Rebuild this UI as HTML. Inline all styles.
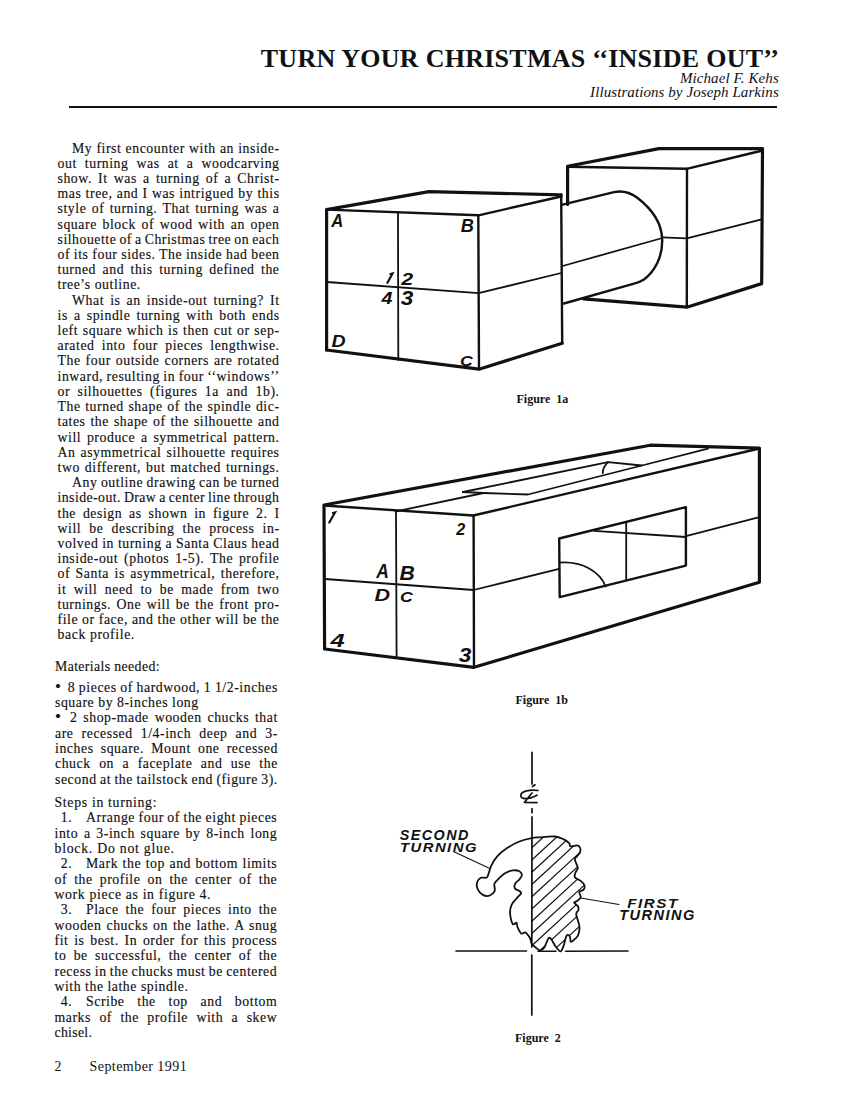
<!DOCTYPE html>
<html><head><meta charset="utf-8">
<style>
html,body{margin:0;padding:0;background:#fff;}
body{width:850px;height:1100px;position:relative;overflow:hidden;color:#111;}
.ln{position:absolute;white-space:pre;line-height:16px;font-family:'Liberation Serif',serif;font-size:13.8px;letter-spacing:0.55px;-webkit-text-stroke:0.15px #111;}
.title{position:absolute;right:70.8px;top:44px;font-family:'Liberation Serif',serif;font-weight:bold;font-size:26px;line-height:30px;letter-spacing:0.265px;white-space:pre;}
.auth{position:absolute;right:71.2px;letter-spacing:0.08px;font-family:'Liberation Serif',serif;font-style:italic;font-size:15px;line-height:18px;white-space:pre;}
.rule{position:absolute;left:68.6px;top:105.9px;width:708.3px;height:1.7px;background:#111;}
.cap{position:absolute;font-family:'Liberation Serif',serif;font-weight:bold;font-size:12px;line-height:14px;white-space:pre;}
.foot{position:absolute;font-family:'Liberation Serif',serif;font-size:14px;line-height:16px;white-space:pre;}
svg{position:absolute;left:0;top:0;}
</style></head><body>
<div class="title">TURN YOUR CHRISTMAS ‘‘INSIDE OUT’’</div>
<div class="auth" style="top:69px">Michael F. Kehs</div>
<div class="auth" style="top:83.2px">Illustrations by Joseph Larkins</div>
<div class="rule"></div>
<div class="ln" id="l0" style="left:72.00px;top:140.60px;letter-spacing:0.550px;word-spacing:0.142px;">My first encounter with an inside-</div>
<div class="ln" id="l1" style="left:57.50px;top:155.81px;letter-spacing:0.550px;word-spacing:4.027px;">out turning was at a woodcarving</div>
<div class="ln" id="l2" style="left:57.50px;top:171.01px;letter-spacing:0.550px;word-spacing:2.166px;">show. It was a turning of a Christ-</div>
<div class="ln" id="l3" style="left:57.50px;top:186.22px;letter-spacing:0.550px;word-spacing:0.241px;">mas tree, and I was intrigued by this</div>
<div class="ln" id="l4" style="left:57.50px;top:201.42px;letter-spacing:0.550px;word-spacing:1.370px;">style of turning. That turning was a</div>
<div class="ln" id="l5" style="left:57.50px;top:216.63px;letter-spacing:0.550px;word-spacing:1.668px;">square block of wood with an open</div>
<div class="ln" id="l6" style="left:57.50px;top:231.84px;letter-spacing:0.520px;word-spacing:-0.900px;">silhouette of a Christmas tree on each</div>
<div class="ln" id="l7" style="left:57.50px;top:247.04px;letter-spacing:0.550px;word-spacing:-0.240px;">of its four sides. The inside had been</div>
<div class="ln" id="l8" style="left:57.50px;top:262.25px;letter-spacing:0.550px;word-spacing:2.472px;">turned and this turning defined the</div>
<div class="ln" id="l9" style="left:57.50px;top:277.45px;letter-spacing:0.549px;word-spacing:0.000px;">tree’s outline.</div>
<div class="ln" id="l10" style="left:72.00px;top:292.66px;letter-spacing:0.550px;word-spacing:2.092px;">What is an inside-out turning? It</div>
<div class="ln" id="l11" style="left:57.50px;top:307.87px;letter-spacing:0.550px;word-spacing:2.120px;">is a spindle turning with both ends</div>
<div class="ln" id="l12" style="left:57.50px;top:323.07px;letter-spacing:0.550px;word-spacing:0.736px;">left square which is then cut or sep-</div>
<div class="ln" id="l13" style="left:57.50px;top:338.28px;letter-spacing:0.550px;word-spacing:3.290px;">arated into four pieces lengthwise.</div>
<div class="ln" id="l14" style="left:57.50px;top:353.48px;letter-spacing:0.550px;word-spacing:0.991px;">The four outside corners are rotated</div>
<div class="ln" id="l15" style="left:57.50px;top:368.69px;letter-spacing:0.550px;word-spacing:-0.505px;">inward, resulting in four ‘‘windows’’</div>
<div class="ln" id="l16" style="left:57.50px;top:383.90px;letter-spacing:0.550px;word-spacing:3.469px;">or silhouettes (figures 1a and 1b).</div>
<div class="ln" id="l17" style="left:57.50px;top:399.10px;letter-spacing:0.550px;word-spacing:0.630px;">The turned shape of the spindle dic-</div>
<div class="ln" id="l18" style="left:57.50px;top:414.31px;letter-spacing:0.550px;word-spacing:0.921px;">tates the shape of the silhouette and</div>
<div class="ln" id="l19" style="left:57.50px;top:429.51px;letter-spacing:0.550px;word-spacing:1.755px;">will produce a symmetrical pattern.</div>
<div class="ln" id="l20" style="left:57.50px;top:444.72px;letter-spacing:0.550px;word-spacing:1.058px;">An asymmetrical silhouette requires</div>
<div class="ln" id="l21" style="left:57.50px;top:459.93px;letter-spacing:0.550px;word-spacing:1.004px;">two different, but matched turnings.</div>
<div class="ln" id="l22" style="left:72.00px;top:475.13px;letter-spacing:0.550px;word-spacing:-0.511px;">Any outline drawing can be turned</div>
<div class="ln" id="l23" style="left:57.50px;top:490.34px;letter-spacing:0.434px;word-spacing:-0.900px;">inside-out. Draw a center line through</div>
<div class="ln" id="l24" style="left:57.50px;top:505.54px;letter-spacing:0.550px;word-spacing:2.883px;">the design as shown in figure 2. I</div>
<div class="ln" id="l25" style="left:57.50px;top:520.75px;letter-spacing:0.550px;word-spacing:4.117px;">will be describing the process in-</div>
<div class="ln" id="l26" style="left:57.50px;top:535.96px;letter-spacing:0.550px;word-spacing:-0.141px;">volved in turning a Santa Claus head</div>
<div class="ln" id="l27" style="left:57.50px;top:551.16px;letter-spacing:0.550px;word-spacing:1.867px;">inside-out (photos 1-5). The profile</div>
<div class="ln" id="l28" style="left:57.50px;top:566.37px;letter-spacing:0.550px;word-spacing:1.523px;">of Santa is asymmetrical, therefore,</div>
<div class="ln" id="l29" style="left:57.50px;top:581.57px;letter-spacing:0.550px;word-spacing:3.426px;">it will need to be made from two</div>
<div class="ln" id="l30" style="left:57.50px;top:596.78px;letter-spacing:0.550px;word-spacing:1.458px;">turnings. One will be the front pro-</div>
<div class="ln" id="l31" style="left:57.50px;top:611.99px;letter-spacing:0.550px;word-spacing:0.030px;">file or face, and the other will be the</div>
<div class="ln" id="l32" style="left:57.50px;top:627.19px;letter-spacing:0.590px;word-spacing:0.000px;">back profile.</div>
<div class="ln" id="l33" style="left:55.00px;top:658.70px;letter-spacing:0.378px;word-spacing:0.000px;">Materials needed:</div>
<div class="ln" id="l34" style="left:55.00px;top:679.70px;letter-spacing:0.550px;word-spacing:-0.343px;"><span style="font-size:17px;line-height:0;margin-right:2.6px">•</span> 8 pieces of hardwood, 1 1/2-inches</div>
<div class="ln" id="l35" style="left:55.00px;top:695.00px;letter-spacing:0.535px;word-spacing:0.000px;">square by 8-inches long</div>
<div class="ln" id="l36" style="left:55.00px;top:710.30px;letter-spacing:0.550px;word-spacing:1.866px;"><span style="font-size:17px;line-height:0;margin-right:2.6px">•</span> 2 shop-made wooden chucks that</div>
<div class="ln" id="l37" style="left:55.00px;top:725.60px;letter-spacing:0.550px;word-spacing:4.087px;">are recessed 1/4-inch deep and 3-</div>
<div class="ln" id="l38" style="left:55.00px;top:740.90px;letter-spacing:0.550px;word-spacing:3.187px;">inches square. Mount one recessed</div>
<div class="ln" id="l39" style="left:55.00px;top:756.20px;letter-spacing:0.550px;word-spacing:4.456px;">chuck on a faceplate and use the</div>
<div class="ln" id="l40" style="left:55.00px;top:771.50px;letter-spacing:0.550px;word-spacing:-0.595px;">second at the tailstock end (figure 3).</div>
<div class="ln" id="l41" style="left:54.50px;top:795.10px;letter-spacing:0.674px;word-spacing:0.000px;">Steps in turning:</div>
<div class="ln" id="l42" style="left:86.00px;top:810.40px;letter-spacing:0.550px;word-spacing:-0.439px;">Arrange four of the eight pieces</div>
<div class="ln" id="l43" style="left:54.50px;top:825.73px;letter-spacing:0.550px;word-spacing:1.732px;">into a 3-inch square by 8-inch long</div>
<div class="ln" id="l44" style="left:54.50px;top:841.06px;letter-spacing:0.741px;word-spacing:0.000px;">block. Do not glue.</div>
<div class="ln" id="l45" style="left:86.00px;top:856.39px;letter-spacing:0.550px;word-spacing:0.534px;">Mark the top and bottom limits</div>
<div class="ln" id="l46" style="left:54.50px;top:871.72px;letter-spacing:0.550px;word-spacing:3.076px;">of the profile on the center of the</div>
<div class="ln" id="l47" style="left:54.50px;top:887.05px;letter-spacing:0.631px;word-spacing:0.000px;">work piece as in figure 4.</div>
<div class="ln" id="l48" style="left:86.00px;top:902.38px;letter-spacing:0.550px;word-spacing:2.997px;">Place the four pieces into the</div>
<div class="ln" id="l49" style="left:54.50px;top:917.71px;letter-spacing:0.550px;word-spacing:0.990px;">wooden chucks on the lathe. A snug</div>
<div class="ln" id="l50" style="left:54.50px;top:933.04px;letter-spacing:0.550px;word-spacing:1.793px;">fit is best. In order for this process</div>
<div class="ln" id="l51" style="left:54.50px;top:948.37px;letter-spacing:0.550px;word-spacing:3.331px;">to be successful, the center of the</div>
<div class="ln" id="l52" style="left:54.50px;top:963.70px;letter-spacing:0.550px;word-spacing:-0.746px;">recess in the chucks must be centered</div>
<div class="ln" id="l53" style="left:54.50px;top:979.03px;letter-spacing:0.525px;word-spacing:0.000px;">with the lathe spindle.</div>
<div class="ln" id="l54" style="left:86.00px;top:994.36px;letter-spacing:0.550px;word-spacing:8.738px;">Scribe the top and bottom</div>
<div class="ln" id="l55" style="left:54.50px;top:1009.69px;letter-spacing:0.550px;word-spacing:4.434px;">marks of the profile with a skew</div>
<div class="ln" id="l56" style="left:54.50px;top:1025.02px;letter-spacing:0.300px;word-spacing:0.000px;">chisel.</div>
<div class="ln" style="left:60.80px;top:810.40px;">1.</div>
<div class="ln" style="left:60.80px;top:856.39px;">2.</div>
<div class="ln" style="left:60.80px;top:902.38px;">3.</div>
<div class="ln" style="left:60.80px;top:994.36px;">4.</div>
<div class="cap" style="left:516.5px;top:391.5px">Figure  1a</div>
<div class="cap" style="left:515.5px;top:692.8px">Figure  1b</div>
<div class="cap" style="left:515px;top:1030.7px">Figure  2</div>
<div class="foot" style="left:54.5px;top:1058.6px">2</div>
<div class="foot" style="left:89.5px;top:1058.6px;letter-spacing:0.45px">September 1991</div>
<svg width="850" height="1100" viewBox="0 0 850 1100">
<g fill="none" stroke="#111" stroke-linecap="round" stroke-linejoin="round">
<polyline stroke-width="3.2" points="567.6,204.5 567.6,166.3 659.0,148.6 762.5,148.6 761.7,283.6 686.8,307.2 583.6,298.8"/>
<polyline stroke-width="2.4" points="567.6,166.7 686.6,168.8 762.5,150.5"/>
<line stroke-width="2.4" x1="687" y1="168.8" x2="686.8" y2="307"/>
<polyline stroke-width="1.8" points="662.4,237.4 686.8,238.4 761.7,219.4"/>
<path stroke-width="2.4" d="M562.6,204.7 L614,192.2 C622,190.5 630,192.5 637,197.5 C652,209 662,224 662.2,240 C662.4,257 655,271 644,279.5 C641,281.5 638,282.5 634,283.6 L563.9,303.5"/>
<line stroke-width="1.8" x1="562.6" y1="266" x2="662.4" y2="238"/>
<polyline stroke-width="3.2" points="326.6,350.0 326.6,209.6 429.0,191.6 561.2,194.8"/>
<polyline stroke-width="3.2" points="562.2,343.3 479.0,369.2 326.6,350.0"/>
<line stroke-width="2.4" x1="561.2" y1="194.8" x2="562.2" y2="343.3"/>
<polyline stroke-width="2.4" points="326.6,209.6 478.5,215.3 561.2,196.5"/>
<line stroke-width="2.4" x1="478.3" y1="215.3" x2="479" y2="369"/>
<line stroke-width="1.8" x1="398" y1="212" x2="398.3" y2="360"/>
<polyline stroke-width="1.8" points="326.6,282.0 478.5,293.2 561.2,273.0"/>
<polyline stroke-width="3.2" points="324.6,649.0 324.0,505.0 650.3,445.2 759.4,448.2 759.4,582.3 474.0,667.3 324.6,649.0"/>
<polyline stroke-width="2.4" points="324.0,505.5 473.3,515.5 759.4,448.5"/>
<line stroke-width="2.4" x1="473.6" y1="515.5" x2="474" y2="667"/>
<line stroke-width="1.8" x1="396" y1="511" x2="396.6" y2="656"/>
<polyline stroke-width="1.8" points="325.0,579.0 473.6,590.0 559.2,568.8"/>
<line stroke-width="1.8" x1="685.9" y1="536.2" x2="759.4" y2="517.2"/>
<polygon stroke-width="2.4" points="559.2,538.5 685.9,507.1 685.9,565.6 559.7,597.1"/>
<line stroke-width="1.8" x1="626.2" y1="522" x2="626.2" y2="580.3"/>
<line stroke-width="1.8" x1="594.1" y1="530.9" x2="685.9" y2="537"/>
<path stroke-width="1.8" d="M559.2,562.6 C583,561 600,572 605.6,586.5"/>
<polyline stroke-width="1.8" points="395.5,511.5 483.6,493.0"/>
<polyline stroke-width="1.8" points="462.9,492.0 483.6,493.0 528.0,494.5 641.9,465.5 708.0,448.6"/>
<polyline stroke-width="1.8" points="462.9,492.0 608.0,462.2 641.9,465.5"/>
<path stroke-width="1.8" d="M608,462.2 Q603,467 602.7,473"/>
<defs><clipPath id="sc"><path d="M531.6,838.2 C528.2,838.9 523.5,839.9 519.4,841.5 C515.3,843.1 510.8,845.6 507.1,848.1 C503.4,850.6 499.8,853.5 497.2,856.4 C494.6,859.3 493.0,862.1 491.4,865.4 C489.8,868.7 488.7,874.0 487.7,876.1 C486.7,878.2 486.7,877.5 485.5,877.8 C484.3,878.1 482.1,877.0 480.7,877.8 C479.3,878.6 477.5,880.8 477.0,882.7 C476.5,884.6 476.8,887.2 477.8,889.3 C478.8,891.4 481.2,894.1 483.2,895.1 C485.2,896.1 487.9,896.2 489.8,895.5 C491.7,894.8 493.9,892.8 494.7,890.9 C495.4,889.0 494.0,886.0 494.3,884.4 C494.6,882.8 494.7,882.9 496.4,881.1 C498.1,879.3 501.9,875.4 504.6,873.6 C507.3,871.8 510.3,870.8 512.8,870.4 C515.3,870.0 517.9,870.5 519.4,871.2 C520.9,872.0 521.9,873.5 521.9,874.9 C521.9,876.3 520.5,878.0 519.4,879.4 C518.3,880.8 516.0,882.0 515.3,883.5 C514.5,885.0 514.2,887.3 514.9,888.5 C515.6,889.7 518.4,890.1 519.4,890.9 C520.4,891.7 521.4,892.3 521.1,893.4 C520.8,894.5 519.1,895.5 517.5,897.4 C515.9,899.3 512.8,902.1 511.6,904.8 C510.4,907.4 509.9,910.1 510.1,913.3 C510.3,916.5 511.7,922.3 512.7,923.9 C513.8,925.5 515.6,922.3 516.4,922.8 C517.2,923.3 516.7,925.3 517.5,927.1 C518.3,928.9 519.9,932.5 521.2,933.4 C522.5,934.3 524.1,931.9 525.4,932.4 C526.7,932.9 528.2,935.4 529.1,936.6 C530.0,937.8 530.2,938.6 530.7,939.8 C531.2,941.0 530.9,942.7 531.8,944.0 C532.7,945.3 534.6,946.6 536.0,947.7 C537.4,948.8 538.8,950.5 540.2,950.4 C541.6,950.3 543.2,949.2 544.5,947.2 C545.8,945.2 547.2,940.1 548.2,938.7 C549.2,937.3 549.5,937.3 550.8,938.7 C552.1,940.1 554.5,945.1 556.1,947.2 C557.7,949.3 559.2,951.6 560.4,951.4 C561.6,951.2 562.5,948.8 563.5,946.1 C564.5,943.5 565.6,937.1 566.7,935.5 C567.8,933.9 569.2,935.5 569.9,936.6 C570.6,937.7 570.0,941.5 570.9,941.9 C571.8,942.2 574.0,939.9 575.2,938.7 C576.5,937.5 577.7,936.6 578.4,934.5 C579.1,932.4 579.8,929.4 579.4,926.0 C579.0,922.6 576.4,917.0 576.2,914.4 C576.0,911.8 578.1,911.5 578.4,910.1 C578.7,908.7 578.5,907.2 577.8,906.0 C577.1,904.8 574.4,903.5 574.2,902.7 C574.0,901.9 575.3,902.1 576.4,901.3 C577.5,900.4 580.2,899.2 580.7,897.6 C581.2,896.0 578.8,893.1 579.3,891.8 C579.8,890.5 582.8,890.7 583.6,889.6 C584.5,888.5 584.9,886.8 584.4,885.3 C583.9,883.8 582.3,882.2 580.7,880.9 C579.1,879.6 575.8,878.8 574.9,877.3 C574.0,875.8 575.1,873.8 575.6,872.2 C576.1,870.6 577.9,869.9 577.8,867.8 C577.7,865.7 575.0,861.7 574.9,859.8 C574.8,857.9 576.2,857.4 577.1,856.2 C578.0,855.0 579.5,854.0 580.0,852.5 C580.5,851.0 580.5,848.7 580.0,847.5 C579.5,846.3 578.7,845.5 577.1,845.3 C575.5,845.1 571.8,846.8 570.5,846.4 C569.2,846.0 570.3,844.3 569.1,843.1 C567.9,841.9 565.7,840.2 563.3,839.1 C560.9,838.0 558.4,836.8 554.5,836.5 C550.6,836.2 543.8,837.0 540.0,837.3 C536.2,837.6 535.0,837.5 531.6,838.2 Z"/></clipPath></defs>
<g clip-path="url(#sc)"><path stroke-width="1.2" d="M531.8,823.2 L600,760.5 M531.8,835.5 L600,772.7 M531.8,847.7 L600,785.0 M531.8,860.0 L600,797.2 M531.8,872.2 L600,809.5 M531.8,884.5 L600,821.7 M531.8,896.7 L600,834.0 M531.8,909.0 L600,846.2 M531.8,921.2 L600,858.5 M531.8,933.5 L600,870.7 M531.8,945.7 L600,883.0 M531.8,958.0 L600,895.2 M531.8,970.2 L600,907.5 M531.8,982.5 L600,919.7"/></g>
<path stroke-width="1.8" d="M531.6,838.2 C528.2,838.9 523.5,839.9 519.4,841.5 C515.3,843.1 510.8,845.6 507.1,848.1 C503.4,850.6 499.8,853.5 497.2,856.4 C494.6,859.3 493.0,862.1 491.4,865.4 C489.8,868.7 488.7,874.0 487.7,876.1 C486.7,878.2 486.7,877.5 485.5,877.8 C484.3,878.1 482.1,877.0 480.7,877.8 C479.3,878.6 477.5,880.8 477.0,882.7 C476.5,884.6 476.8,887.2 477.8,889.3 C478.8,891.4 481.2,894.1 483.2,895.1 C485.2,896.1 487.9,896.2 489.8,895.5 C491.7,894.8 493.9,892.8 494.7,890.9 C495.4,889.0 494.0,886.0 494.3,884.4 C494.6,882.8 494.7,882.9 496.4,881.1 C498.1,879.3 501.9,875.4 504.6,873.6 C507.3,871.8 510.3,870.8 512.8,870.4 C515.3,870.0 517.9,870.5 519.4,871.2 C520.9,872.0 521.9,873.5 521.9,874.9 C521.9,876.3 520.5,878.0 519.4,879.4 C518.3,880.8 516.0,882.0 515.3,883.5 C514.5,885.0 514.2,887.3 514.9,888.5 C515.6,889.7 518.4,890.1 519.4,890.9 C520.4,891.7 521.4,892.3 521.1,893.4 C520.8,894.5 519.1,895.5 517.5,897.4 C515.9,899.3 512.8,902.1 511.6,904.8 C510.4,907.4 509.9,910.1 510.1,913.3 C510.3,916.5 511.7,922.3 512.7,923.9 C513.8,925.5 515.6,922.3 516.4,922.8 C517.2,923.3 516.7,925.3 517.5,927.1 C518.3,928.9 519.9,932.5 521.2,933.4 C522.5,934.3 524.1,931.9 525.4,932.4 C526.7,932.9 528.2,935.4 529.1,936.6 C530.0,937.8 530.2,938.6 530.7,939.8 C531.2,941.0 530.9,942.7 531.8,944.0 C532.7,945.3 534.6,946.6 536.0,947.7 C537.4,948.8 538.8,950.5 540.2,950.4 C541.6,950.3 543.2,949.2 544.5,947.2 C545.8,945.2 547.2,940.1 548.2,938.7 C549.2,937.3 549.5,937.3 550.8,938.7 C552.1,940.1 554.5,945.1 556.1,947.2 C557.7,949.3 559.2,951.6 560.4,951.4 C561.6,951.2 562.5,948.8 563.5,946.1 C564.5,943.5 565.6,937.1 566.7,935.5 C567.8,933.9 569.2,935.5 569.9,936.6 C570.6,937.7 570.0,941.5 570.9,941.9 C571.8,942.2 574.0,939.9 575.2,938.7 C576.5,937.5 577.7,936.6 578.4,934.5 C579.1,932.4 579.8,929.4 579.4,926.0 C579.0,922.6 576.4,917.0 576.2,914.4 C576.0,911.8 578.1,911.5 578.4,910.1 C578.7,908.7 578.5,907.2 577.8,906.0 C577.1,904.8 574.4,903.5 574.2,902.7 C574.0,901.9 575.3,902.1 576.4,901.3 C577.5,900.4 580.2,899.2 580.7,897.6 C581.2,896.0 578.8,893.1 579.3,891.8 C579.8,890.5 582.8,890.7 583.6,889.6 C584.5,888.5 584.9,886.8 584.4,885.3 C583.9,883.8 582.3,882.2 580.7,880.9 C579.1,879.6 575.8,878.8 574.9,877.3 C574.0,875.8 575.1,873.8 575.6,872.2 C576.1,870.6 577.9,869.9 577.8,867.8 C577.7,865.7 575.0,861.7 574.9,859.8 C574.8,857.9 576.2,857.4 577.1,856.2 C578.0,855.0 579.5,854.0 580.0,852.5 C580.5,851.0 580.5,848.7 580.0,847.5 C579.5,846.3 578.7,845.5 577.1,845.3 C575.5,845.1 571.8,846.8 570.5,846.4 C569.2,846.0 570.3,844.3 569.1,843.1 C567.9,841.9 565.7,840.2 563.3,839.1 C560.9,838.0 558.4,836.8 554.5,836.5 C550.6,836.2 543.8,837.0 540.0,837.3 C536.2,837.6 535.0,837.5 531.6,838.2 Z"/>
<path stroke-width="1.7" d="M532,752.3 L532,784 M532,808.6 L532,812.7 M532,816.8 L531.8,947 M531.8,955 L531.8,1015"/>
<path stroke-width="1.7" d="M538,790.5 C530,789.5 521,791 520.8,795.5 C520.6,799.5 528,800 537,795.2 M532.5,786.5 L535,784.8 M532,793 L524.5,802.4 L537,802.6"/>
<path stroke-width="1.6" d="M456,951 L526.5,951 M538,951.2 L556,951.2 M565.6,951.2 L628,951"/>
<line stroke-width="1.1" x1="454" y1="851.8" x2="489.8" y2="868.6"/>
<line stroke-width="1.1" x1="580.7" y1="898" x2="619" y2="904.5"/>
</g>
<text x="0" y="0" style="font-family:'Liberation Sans',sans-serif;font-weight:bold;font-style:italic;font-size:17.65px" fill="#111" transform="translate(331.17,227.18) scale(0.944,1)">A</text>
<text x="0" y="0" style="font-family:'Liberation Sans',sans-serif;font-weight:bold;font-style:italic;font-size:18.84px" fill="#111" transform="translate(460.64,232.0) scale(0.965,1)">B</text>
<text x="0" y="0" style="font-family:'Liberation Sans',sans-serif;font-weight:bold;font-style:italic;font-size:17.14px" fill="#111" transform="translate(401.21,285.0) scale(1.25,1)">2</text>
<text x="0" y="0" style="font-family:'Liberation Sans',sans-serif;font-weight:bold;font-style:italic;font-size:17.39px" fill="#111" transform="translate(381.39,304.0) scale(1.129,1)">4</text>
<text x="0" y="0" style="font-family:'Liberation Sans',sans-serif;font-weight:bold;font-style:italic;font-size:19.72px" fill="#111" transform="translate(400.77,304.8) scale(1.148,1)">3</text>
<text x="0" y="0" style="font-family:'Liberation Sans',sans-serif;font-weight:bold;font-style:italic;font-size:17.39px" fill="#111" transform="translate(331.61,347.0) scale(1.116,1)">D</text>
<text x="0" y="0" style="font-family:'Liberation Sans',sans-serif;font-weight:bold;font-style:italic;font-size:15.49px" fill="#111" transform="translate(460.12,365.85) scale(1.139,1)">C</text>
<text x="0" y="0" style="font-family:'Liberation Sans',sans-serif;font-weight:bold;font-style:italic;font-size:17.14px" fill="#111" transform="translate(456.16,535.0) scale(0.938,1)">2</text>
<text x="0" y="0" style="font-family:'Liberation Sans',sans-serif;font-weight:bold;font-style:italic;font-size:20.59px" fill="#111" transform="translate(376.17,578.21) scale(0.85,1)">A</text>
<text x="0" y="0" style="font-family:'Liberation Sans',sans-serif;font-weight:bold;font-style:italic;font-size:20.29px" fill="#111" transform="translate(399.58,580.0) scale(1.045,1)">B</text>
<text x="0" y="0" style="font-family:'Liberation Sans',sans-serif;font-weight:bold;font-style:italic;font-size:15.94px" fill="#111" transform="translate(374.55,601.0) scale(1.35,1)">D</text>
<text x="0" y="0" style="font-family:'Liberation Sans',sans-serif;font-weight:bold;font-style:italic;font-size:15.49px" fill="#111" transform="translate(400.12,601.85) scale(1.139,1)">C</text>
<text x="0" y="0" style="font-family:'Liberation Sans',sans-serif;font-weight:bold;font-style:italic;font-size:18.84px" fill="#111" transform="translate(330.54,647.0) scale(1.35,1)">4</text>
<text x="0" y="0" style="font-family:'Liberation Sans',sans-serif;font-weight:bold;font-style:italic;font-size:19.72px" fill="#111" transform="translate(458.77,661.8) scale(1.148,1)">3</text>
<path fill="none" stroke="#111" stroke-width="2.2" stroke-linecap="round" d="M390.5,274 L392.5,273.5 L387.5,282.8 M333,513 L335,512.5 L329.3,522.5"/>
<text x="0" y="0" style="font-family:'Liberation Sans',sans-serif;font-weight:bold;font-style:italic;font-size:14.79px;letter-spacing:1.479px" fill="#111" transform="translate(399.86,840.35) scale(0.97,1)">SECOND</text>
<text x="0" y="0" style="font-family:'Liberation Sans',sans-serif;font-weight:bold;font-style:italic;font-size:11.97px;letter-spacing:1.197px" fill="#111" transform="translate(399.96,851.88) scale(1.241,1)">TURNING</text>
<text x="0" y="0" style="font-family:'Liberation Sans',sans-serif;font-weight:bold;font-style:italic;font-size:12.39px;letter-spacing:1.239px" fill="#111" transform="translate(627.2,908.38) scale(1.227,1)">FIRST</text>
<text x="0" y="0" style="font-family:'Liberation Sans',sans-serif;font-weight:bold;font-style:italic;font-size:14.51px;letter-spacing:1.451px" fill="#111" transform="translate(619.28,920.25) scale(1.003,1)">TURNING</text>
</svg>
</body></html>
